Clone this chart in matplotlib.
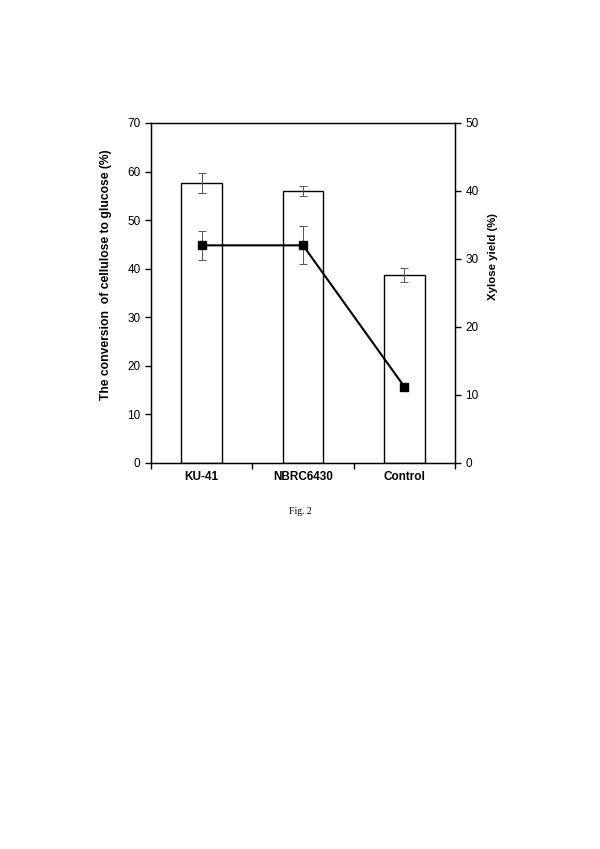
import numpy as np
import matplotlib.pyplot as plt

plt.rcParams['font.family'] = ['Liberation Sans', 'DejaVu Sans']

STRAINS = ['KU-41', 'NBRC6430', 'Control']
GLUCOSE = [57.6, 56.0, 38.7]        # conversion of cellulose to glucose (%)
GLUCOSE_ERR = [2.0, 1.1, 1.4]
XYLOSE = [32.0, 32.0, 11.2]         # xylose yield (%)
XYLOSE_ERR = [2.1, 2.8, 0.4]

fig = plt.figure(figsize=(6, 8.49), dpi=100)
ax = fig.add_axes([0.2517, 0.4547, 0.5067, 0.4005])
x = np.arange(len(STRAINS))

ax.bar(x, GLUCOSE, 0.4, color='white', edgecolor='black', linewidth=1.0, zorder=2)
ax.errorbar(x, GLUCOSE, yerr=GLUCOSE_ERR, fmt='none', ecolor='#555555',
            elinewidth=0.7, capsize=3, capthick=0.7, zorder=3)
ax.set_xlim(-0.5, 2.5)
ax.set_ylim(0, 70)
ax.set_yticks(np.arange(0, 71, 10))
ax.set_xticks(x)
ax.set_xticklabels(STRAINS, fontweight='bold', fontsize=8.5)
ax.set_xticks([-0.5, 0.5, 1.5, 2.5], minor=True)
ax.tick_params(axis='x', which='major', length=0, pad=6)
ax.tick_params(axis='x', which='minor', length=4, direction='out', width=1)
ax.tick_params(axis='y', length=4, direction='out', width=1, labelsize=8.5)
ax.set_ylabel('The conversion  of cellulose to glucose (%)', fontweight='bold', fontsize=8.7)
ax.yaxis.set_label_coords(-0.128, 0.553)
for s in ax.spines.values():
    s.set_linewidth(1.0)

ax2 = ax.twinx()
ax2.errorbar(x, XYLOSE, yerr=XYLOSE_ERR, fmt='none', ecolor='#555555',
             elinewidth=0.7, capsize=3, capthick=0.7, zorder=3)
ax2.plot(x, XYLOSE, color='black', linewidth=1.5, marker='s', markersize=6, zorder=4)
ax2.set_ylim(0, 50)
ax2.set_yticks(np.arange(0, 51, 10))
ax2.tick_params(axis='y', length=4, direction='out', width=1, labelsize=8.5)
ax2.set_ylabel('Xylose yield (%)', fontweight='bold', fontsize=8.2)
ax2.yaxis.set_label_coords(1.109, 0.606)

fig.text(0.5, 1 - 512 / 849, 'Fig. 2', ha='center', va='center', fontsize=7,
         family=['Liberation Serif', 'DejaVu Serif'])

fig.savefig('out.png', dpi=100)
